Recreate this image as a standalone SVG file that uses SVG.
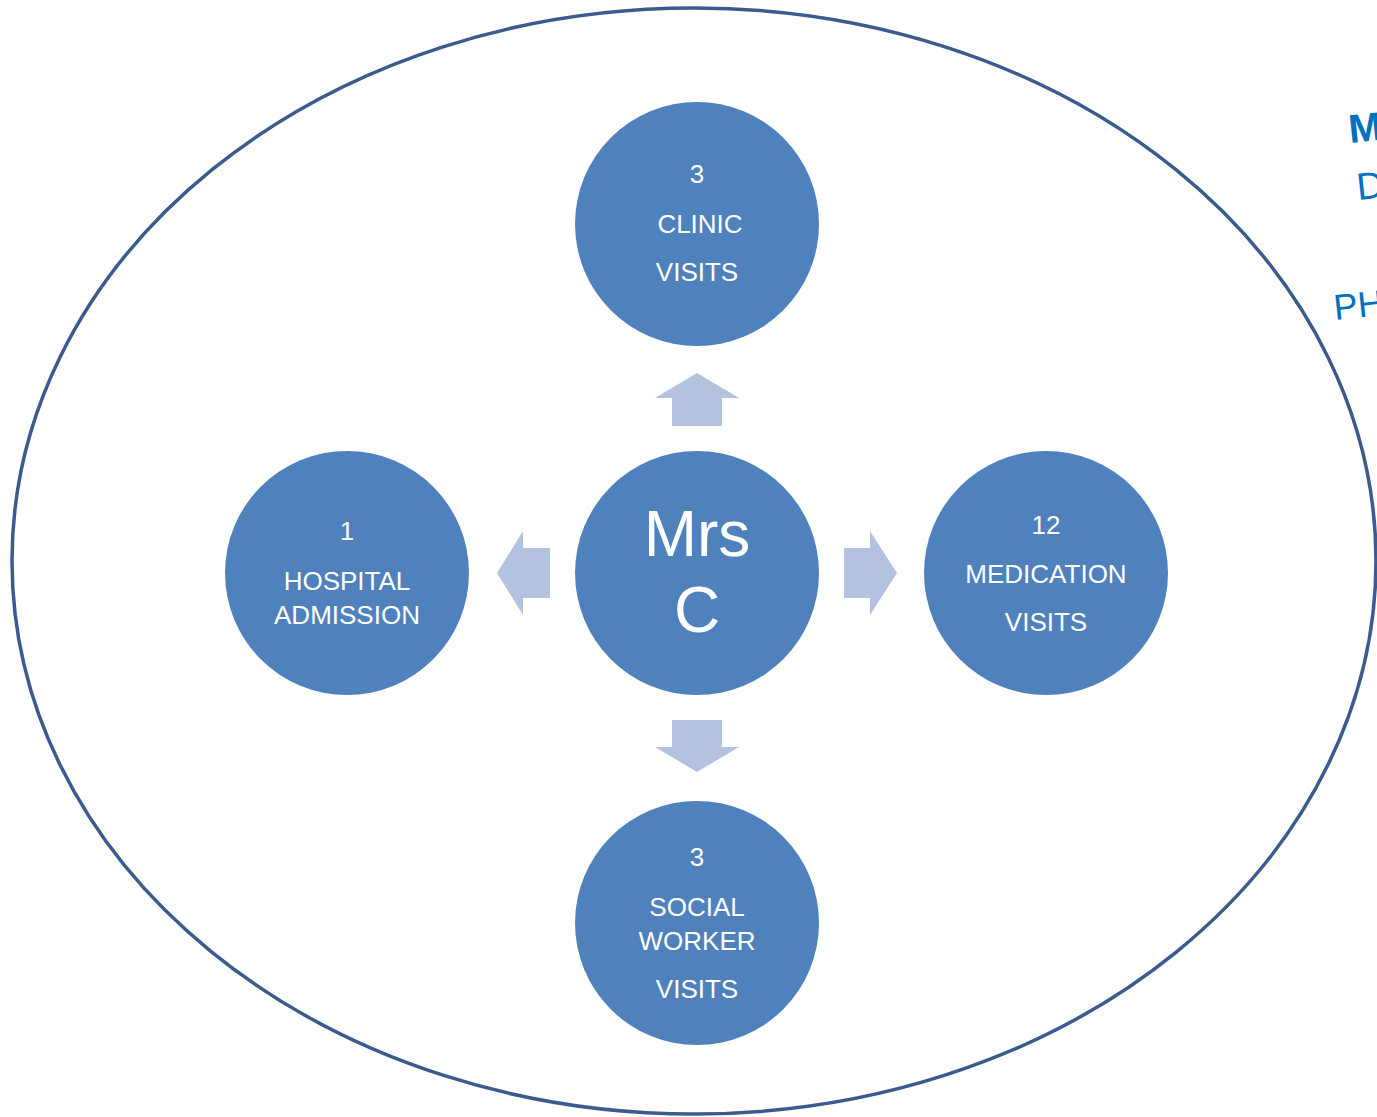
<svg xmlns="http://www.w3.org/2000/svg" width="1377" height="1117" viewBox="0 0 1377 1117">
<style>
.node{fill:#4f81bd;}
.lbl{font-family:"Liberation Sans",Arial,sans-serif;font-size:26px;fill:#ffffff;text-anchor:middle;}
.big{font-family:"Liberation Sans",Arial,sans-serif;font-size:64px;fill:#ffffff;text-anchor:middle;}
.arr{fill:#b3c3df;}
.side{font-family:"Liberation Sans",Arial,sans-serif;fill:#0070c0;}
</style>
<rect width="1377" height="1117" fill="#ffffff"/>
<ellipse cx="694" cy="561" rx="682" ry="553" fill="none" stroke="#3b5b8e" stroke-width="3.5"/>
<g class="side">
<text x="1350" y="143" font-size="40" font-weight="bold" transform="rotate(-6 1350 143)">M</text>
<text x="1358" y="200" font-size="38" transform="rotate(-6 1358 200)">D</text>
<text x="1335" y="320" font-size="36" transform="rotate(-6 1335 320)">PH</text>
</g>
<g id="connectors">
<polygon class="arr" points="697,373 739,398 722,398 722,426 672,426 672,398 655,398"/>
<polygon class="arr" points="497,573 523,531 523,548 550,548 550,598 523,598 523,615"/>
<polygon class="arr" points="897,573 870,531 870,548 844,548 844,598 870,598 870,615"/>
<polygon class="arr" points="697,772 739,747 722,747 722,720 672,720 672,747 655,747"/>
</g>
<g id="node-center">
<circle class="node" cx="697" cy="573" r="122"/>
<text class="big" x="697" y="556">Mrs</text>
<text class="big" x="697" y="632">C</text>
</g>
<g id="node-clinic">
<circle class="node" cx="697" cy="224" r="122"/>
<text class="lbl" x="697" y="183">3</text>
<text class="lbl" x="700" y="233">CLINIC</text>
<text class="lbl" x="697" y="281">VISITS</text>
</g>
<g id="node-hospital">
<circle class="node" cx="347" cy="573" r="122"/>
<text class="lbl" x="347" y="540">1</text>
<text class="lbl" x="347" y="590">HOSPITAL</text>
<text class="lbl" x="347" y="624">ADMISSION</text>
</g>
<g id="node-medication">
<circle class="node" cx="1046" cy="573" r="122"/>
<text class="lbl" x="1046" y="534">12</text>
<text class="lbl" x="1046" y="583">MEDICATION</text>
<text class="lbl" x="1046" y="631">VISITS</text>
</g>
<g id="node-social">
<circle class="node" cx="697" cy="923" r="122"/>
<text class="lbl" x="697" y="866">3</text>
<text class="lbl" x="697" y="916">SOCIAL</text>
<text class="lbl" x="697" y="950">WORKER</text>
<text class="lbl" x="697" y="998">VISITS</text>
</g>
</svg>
